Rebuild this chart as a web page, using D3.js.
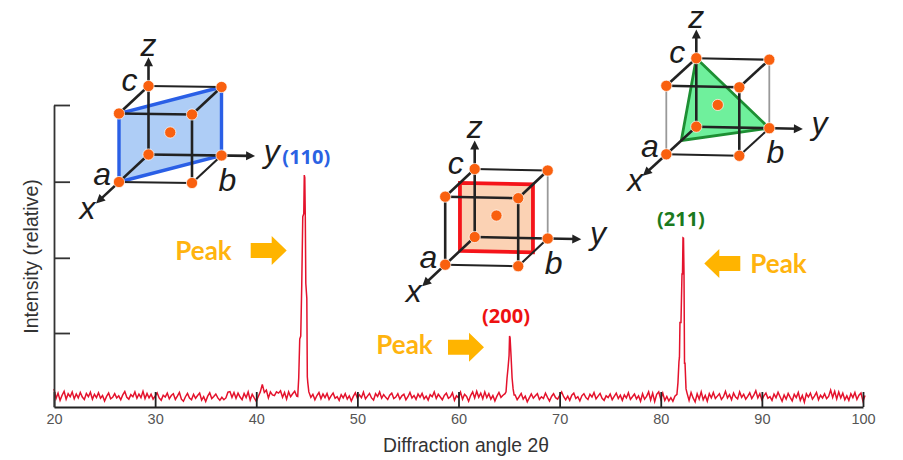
<!DOCTYPE html>
<html>
<head>
<meta charset="utf-8">
<script src="https://cdnjs.cloudflare.com/ajax/libs/d3/7.8.5/d3.min.js"></script>
<style>
  html, body { margin: 0; padding: 0; background: #fff; }
  svg { display: block; }
  text { font-family: "Liberation Sans", Arial, sans-serif; }
</style>
</head>
<body>
<svg id="plot" width="903" height="460"></svg>
<script>
// background noise, one value every 0.2 degrees
var noiseStep = 0.2
var noiseA = [
  6.0,2.8,4.6,2.2,3.9,5.2,2.6,4.4,3.4,5.0,
  2.7,4.3,3.0,4.8,3.3,2.5,4.5,3.4,4.9,2.6,
  4.2,3.1,4.7,2.9,3.8,2.0,3.5,4.6,2.7,3.2,
  4.4,3.0,3.7,2.4,4.0,5.1,3.2,2.6,4.1,3.4,
  5.0,2.9,4.3,3.1,5.2,2.8,4.5,3.0,4.2,2.6,
  3.6,4.7,3.0,2.2,3.9,3.3,4.6,2.7,3.8,4.4,
  2.5,3.6,4.8,2.6,1.9,3.4,4.5,3.0,2.4,4.2,
  2.9,3.8,4.6,2.3,3.4,1.8,3.6,4.7,2.8,3.5,
  4.3,3.0,2.2,3.2,2.4,3.0,4.9,5.1,3.2,4.8,
  2.9,4.6,3.3,2.4,4.5,3.1,5.0,2.3,4.2,3.0,
  1.9,3.5,5.0,7.5,4.8,5.6,3.0,5.0,4.0,3.8,
  5.0,4.6,5.4,3.2,4.8,2.6,5.0,3.4,4.4,5.2,
  3.6
]
var noiseB = [
  5.0,3.2,4.2,2.4,3.8,4.8,2.7,4.3,3.1,4.5,
  2.5,3.7,4.6,2.9,3.4,2.2,4.1,3.0,4.4,2.6,
  3.7,2.0,3.5,4.7,2.9,4.0,3.1,4.9,2.7,3.6,
  4.5,3.0,2.3,4.4,3.5,5.0,2.9,4.1,3.2,2.5,
  3.9,4.6,2.8,3.3,4.4,2.6,3.7,4.2,2.4,3.4,
  4.8,3.0,3.8,2.5,4.3,3.2,4.5,2.7,3.6,2.3,
  4.1,3.4,5.0,2.8,4.2,3.3,2.4,3.8,4.6,2.9,
  3.4,4.7,2.2,3.7,3.1,4.9,2.6,4.2,3.5,1.9,
  3.8,5.0,3.0,5.2,3.2,4.6,2.7,5.0,3.1,4.4,
  2.6,3.8,2.0,3.6,4.8,3.2,3.9,4.4
]
var noiseC = [
  4.0,2.4,3.4,4.5,2.6,3.6,1.7,3.0,4.3,2.9,
  3.7,4.4,2.5,3.4,2.8,4.6,3.2,2.0,3.5,4.4,
  3.1,2.6,3.8,5.0,3.4,2.4,3.6,2.2,3.9,4.6,
  2.8,3.4,2.0,3.7,4.4,3.1,2.5,4.2,3.3,4.8,
  2.7,3.6,4.5,2.9,2.2,3.7,3.1,4.3,2.4,3.5,
  4.6,2.8,3.9,2.2,4.0,3.0,4.7,2.5,3.4,4.3,
  2.7,3.7,1.9,4.4,2.6,3.5,5.0,2.3,4.6,1.8,
  4.2,5.0,2.6,4.6,2.2,3.5,2.0,3.1,1.9,3.6,
  4.2
]
var noiseD = [
  4.6,2.2,4.8,3.0,1.7,4.4,2.6,5.0,2.4,3.8,
  1.9,4.4,3.0,4.8,2.8,3.6,4.4,2.5,3.4,5.2,
  3.0,4.1,2.4,4.6,3.3,2.7,5.0,3.2,4.2,2.6,
  3.5,4.7,2.8,3.9,5.4,3.0,4.4,2.4,3.7,4.6,
  2.9,3.4,2.2,4.3,3.1,4.9,3.4,1.9,4.0,2.6,
  4.5,3.2,2.0,4.2,3.1,4.8,2.2,3.8,1.6,4.4,
  3.3,4.6,2.6,3.6,4.8,2.4,3.9,3.0,4.4,2.8,
  3.5,5.6,3.2,5.2,2.7,5.0,3.0,4.6,2.4,3.7,
  2.2,4.4,3.1,4.8,2.5,3.9,4.6,1.9,3.8
]
var noiseStarts = [20, 45.2, 65.6, 82.6]

// the three diffraction peaks, sampled more finely
var peak110Angles = [44.1, 44.2, 44.3, 44.4, 44.5, 44.6, 44.7, 44.75, 44.8, 44.85, 44.9, 45.0, 45.05, 45.1]
var peak110Values = [3.5, 9.6, 22.5, 23.5, 40.5, 63, 64, 76.8, 76, 63, 41, 36, 10, 8]
var peak200Angles = [64.7, 64.8, 64.9, 65.0, 65.05, 65.1, 65.2, 65.3, 65.4, 65.5]
var peak200Values = [5, 9.6, 13, 17, 23.5, 23, 16.7, 9.6, 6, 4]
var peak211Angles = [81.7, 81.8, 81.85, 81.9, 82.0, 82.1, 82.15, 82.2, 82.25, 82.3, 82.35, 82.4, 82.5]
var peak211Values = [8, 15, 16.5, 28, 28, 44, 44, 56, 55.9, 44, 14.5, 14.5, 6]

var xTicks = [20, 30, 40, 50, 60, 70, 80, 90, 100]
var yTicks = [24.5, 49.4, 74.6, 100]

var peakNames = ["(110)", "(200)", "(211)"]
var peakNameAngles = [44.95, 64.7, 82]
var peakNameValues = [82.8, 30.1, 62.3]

// lattice corners of each shaded plane, as (x,y,z) fractions of the cell
var plane110 = [[1,0,0],[0,1,0],[0,1,1],[1,0,1]]
var plane200 = [[.5,0,0],[.5,1,0],[.5,1,1],[.5,0,1]]
var plane211 = [[0,0,1],[0,1,0],[.5,0,0]]
var corners = [[0,0,0],[1,0,0],[0,1,0],[0,0,1],[1,0,1],[0,1,1],[1,1,0],[1,1,1]]
var edges = [
  [[1,0,0],[1,1,0]], [[1,1,0],[0,1,0]], [[1,1,0],[1,1,1]], [[1,1,1],[1,0,1]],
  [[1,1,1],[0,1,1]], [[1,0,1],[0,0,1]], [[0,0,1],[0,1,1]], [[1,0,0],[1,0,1]],
  [[0,1,0],[0,1,1]]
]

var svg = d3.select("#plot")

var x = d3.scaleLinear().domain([20, 100]).range([54, 863])
var y = d3.scaleLinear().domain([0, 100]).range([407, 105])

// join noise stretches and peaks into a single trace
var trace = []
;[noiseA, noiseB, noiseC, noiseD].forEach((vals, s) => {
  vals.forEach((v, i) => trace.push([noiseStarts[s] + i * noiseStep, v]))
})
peak110Angles.forEach((a, i) => trace.push([a, peak110Values[i]]))
peak200Angles.forEach((a, i) => trace.push([a, peak200Values[i]]))
peak211Angles.forEach((a, i) => trace.push([a, peak211Values[i]]))
trace.sort((p, q) => p[0] - q[0])

var line = d3.line().x(d => x(d[0])).y(d => y(d[1]))
svg.append("path")
  .attr("d", line(trace))
  .attr("fill", "none")
  .attr("stroke", "#e4122c")
  .attr("stroke-width", 1.5)

// axes, ticks point inward
var xAxis = svg.append("g").attr("transform", "translate(0,407)")
  .call(d3.axisBottom(x).tickValues(xTicks).tickSize(-15).tickSizeOuter(0).tickPadding(6.5))
var yAxis = svg.append("g").attr("transform", "translate(54,0)")
  .call(d3.axisLeft(y).tickValues(yTicks).tickSize(-16).tickSizeOuter(0).tickFormat(""))
xAxis.selectAll("path, line").attr("stroke", "#222").attr("stroke-width", 1.8)
yAxis.selectAll("path, line").attr("stroke", "#333").attr("stroke-width", 1.8)
xAxis.selectAll("text").attr("font-size", 14.5).attr("fill", "#555")
  .style("font-family", '"Liberation Sans", Arial, sans-serif')

svg.append("text").attr("x", 466).attr("y", 452)
  .attr("text-anchor", "middle").attr("font-size", 19.3).attr("fill", "#333")
  .text("Diffraction angle 2θ")
svg.append("text").attr("transform", "translate(38,256.5) rotate(-90)")
  .attr("text-anchor", "middle").attr("font-size", 19.6).attr("fill", "#333")
  .text("Intensity (relative)")

// hkl labels
var nameColors = ["#2b62e3", "#ee1111", "#1b7a1e"]
peakNames.forEach((name, i) => {
  svg.append("text")
    .attr("x", x(peakNameAngles[i])).attr("y", y(peakNameValues[i]) + 7)
    .attr("text-anchor", "middle").attr("font-size", 20).attr("font-weight", "bold")
    .style("font-family", '"Open Sans", sans-serif')
    .attr("fill", nameColors[i])
    .text(name)
})

// "Peak" callouts with block arrows
function blockArrow(tip, cy, dir) {
  var headLen = 15, headHalf = 14.5, shaftLen = 36, shaftHalf = 7.5
  return [[tip, cy], [tip - dir * headLen, cy - headHalf], [tip - dir * headLen, cy - shaftHalf],
    [tip - dir * shaftLen, cy - shaftHalf], [tip - dir * shaftLen, cy + shaftHalf],
    [tip - dir * headLen, cy + shaftHalf], [tip - dir * headLen, cy + headHalf]].join(" ")
}
var callouts = [
  {textX: 203.5, textY: 260, tip: 286.7, cy: 250.5, dir: 1},
  {textX: 404.5, textY: 354, tip: 484, cy: 347.3, dir: 1},
  {textX: 778.5, textY: 273, tip: 704.3, cy: 263.5, dir: -1}
]
callouts.forEach(c => {
  svg.append("text").attr("x", c.textX).attr("y", c.textY)
    .attr("text-anchor", "middle").attr("font-size", 26).attr("font-weight", "bold")
    .style("font-family", 'Lato, sans-serif')
    .attr("fill", "#ffb40f").text("Peak")
  svg.append("polygon").attr("points", blockArrow(c.tip, c.cy, c.dir)).attr("fill", "#ffb400")
})

// unit cells
var cubeLabels = [
  {t: "z", dx: 0, dy: -99}, {t: "c", dx: -19, dy: -63.5}, {t: "a", dx: -46.3, dy: 30.5},
  {t: "b", dx: 79, dy: 36.5}, {t: "y", dx: 123.3, dy: 7}, {t: "x", dx: -61, dy: 64.5}
]

function drawCube(c) {
  var g = svg.append("g")
  var pt = p => [
    c.origin[0] + p[0] * c.dx[0] + p[1] * c.dy[0],
    c.origin[1] + p[0] * c.dx[1] + p[1] * c.dy[1] + p[2] * c.dz
  ]
  g.append("polygon")
    .attr("points", c.plane.map(pt).join(" "))
    .attr("fill", c.fill).attr("stroke", c.stroke).attr("stroke-width", c.planeWidth)
    .attr("stroke-linejoin", "miter")

  edges.forEach((e, i) => {
    if (c.skipEdges.indexOf(i) >= 0) return
    var a = pt(e[0]), b = pt(e[1])
    var gray = c.grayEdges.indexOf(i) >= 0
    g.append("line")
      .attr("x1", a[0]).attr("y1", a[1]).attr("x2", b[0]).attr("y2", b[1])
      .attr("stroke", gray ? "#999" : "#222")
      .attr("stroke-width", gray ? 1.8 : (i == 0 || i == 1 || i == 6 ? 2.1 : 2.6))
  })

  // the three axes with arrowheads
  ;[[1.78,0,0],[0,1.46,0],[0,0,1.42]].forEach(end => {
    var o = pt([0,0,0]), t = pt(end)
    var ang = Math.atan2(t[1] - o[1], t[0] - o[0])
    var len = Math.hypot(t[0] - o[0], t[1] - o[1])
    var ax = g.append("g").attr("transform", `translate(${o[0]},${o[1]}) rotate(${ang * 180 / Math.PI})`)
    ax.append("line").attr("x2", len - 6).attr("stroke", "#222").attr("stroke-width", 2.6)
    ax.append("polygon").attr("points", `${len},0 ${len - 9},-4.5 ${len - 9},4.5`).attr("fill", "#222")
  })

  g.selectAll("circle.v").data(corners).enter().append("circle").attr("class", "v")
    .attr("cx", d => pt(d)[0]).attr("cy", d => pt(d)[1]).attr("r", 5.6)
    .attr("fill", "#f9600f").attr("stroke", "#fff").attr("stroke-width", 0.7)
  var mid = pt([.5, .5, .53])
  g.append("circle").attr("cx", mid[0]).attr("cy", mid[1]).attr("r", 5.6)
    .attr("fill", "#f9600f").attr("stroke", "#fff").attr("stroke-width", 0.7)

  cubeLabels.forEach(l => {
    g.append("text").attr("x", c.origin[0] + l.dx).attr("y", c.origin[1] + l.dy)
      .attr("text-anchor", "middle").attr("font-size", 32).attr("font-style", "italic")
      .attr("fill", "#1c1c1c").text(l.t)
  })
}

drawCube({origin: [148.5, 154.5], dx: [-29.5, 27.5], dy: [73, 1], dz: -68.5,
  plane: plane110, fill: "#aecdf6", stroke: "#2a5fe6", planeWidth: 3.4, grayEdges: [], skipEdges: [7, 8]})
drawCube({origin: [474.7, 237], dx: [-29.5, 27.7], dy: [73, 1.5], dz: -68,
  plane: plane200, fill: "#fbd2b4", stroke: "#f5141a", planeWidth: 3.8, grayEdges: [8], skipEdges: []})
drawCube({origin: [696.3, 126.7], dx: [-30, 27.6], dy: [73, 1.5], dz: -68.5,
  plane: plane211, fill: "#6ff09c", stroke: "#1d8f33", planeWidth: 2.8, grayEdges: [7, 8], skipEdges: []})
</script>
</body>
</html>
